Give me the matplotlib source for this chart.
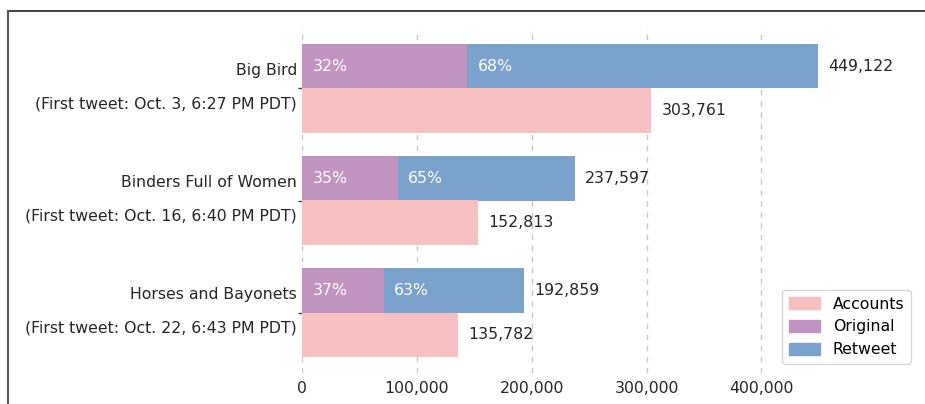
import matplotlib
matplotlib.use("Agg")
import matplotlib.pyplot as plt
import matplotlib.transforms as mtransforms
from matplotlib.lines import Line2D
from matplotlib.patches import Patch
import numpy as np

# Data
memes = ["Big Bird", "Binders Full of Women", "Horses and Bayonets"]
first_tweet = ["Oct. 3, 6:27 PM PDT", "Oct. 16, 6:40 PM PDT", "Oct. 22, 6:43 PM PDT"]
accounts = [303761, 152813, 135782]
original = [143700, 83200, 71400]
retweet = [305422, 154397, 121459]
xticks = [0, 100000, 200000, 300000, 400000]

c_acc = "#f7c0c0"
c_orig = "#c194bf"
c_rt = "#7ba2cc"
txt = "#262626"
fs = 11.3

fig = plt.figure(figsize=(9.25, 4.04), dpi=100)
ax = fig.add_axes([302 / 925, 1 - 373 / 404, (920 - 302) / 925, (373 - 28) / 404])

y = np.arange(len(memes))
h = 0.4
totals = [o + r for o, r in zip(original, retweet)]

ax.barh(y - h / 2, original, height=h, color=c_orig, label="Original", zorder=2)
ax.barh(y - h / 2, retweet, left=original, height=h, color=c_rt, label="Retweet", zorder=2)
ax.barh(y + h / 2, accounts, height=h, color=c_acc, label="Accounts", zorder=2)

for i in range(len(memes)):
    t = totals[i]
    ax.text(9000, y[i] - h / 2, f"{round(100 * original[i] / t)}%", color="white",
            va="center", ha="left", fontsize=fs, zorder=3)
    ax.text(original[i] + 9000, y[i] - h / 2, f"{round(100 * retweet[i] / t)}%", color="white",
            va="center", ha="left", fontsize=fs, zorder=3)
    ax.text(t + 9000, y[i] - h / 2, f"{t:,}", color=txt, va="center", ha="left", fontsize=fs)
    ax.text(accounts[i] + 9000, y[i] + h / 2, f"{accounts[i]:,}", color=txt,
            va="center", ha="left", fontsize=fs)

# two-line y labels placed by hand around each tick
ylab = mtransforms.offset_copy(
    mtransforms.blended_transform_factory(ax.transAxes, ax.transData),
    fig=fig, x=-5, y=0, units="dots")
for i in range(len(memes)):
    ax.text(0, y[i] - 0.16, memes[i], transform=ylab, ha="right", va="center",
            fontsize=fs, color=txt)
    ax.text(0, y[i] + 0.14, f"(First tweet: {first_tweet[i]})", transform=ylab,
            ha="right", va="center", fontsize=fs, color=txt)

ax.set_yticks(y)
ax.set_yticklabels([])
ax.invert_yaxis()
ax.set_xlim(0, 538000)
ax.set_xticks(xticks)
ax.set_xticklabels([f"{v:,}" for v in xticks], fontsize=fs, color=txt)
ax.tick_params(axis="x", length=0, pad=6)
ax.tick_params(axis="y", length=3, width=1, color="#444444", pad=4)
for s in ax.spines.values():
    s.set_visible(False)
ax.xaxis.grid(True, linestyle=(0, (4, 4)), color="#c8c8c8", linewidth=1, zorder=0)
ax.set_axisbelow(True)

handles = [Patch(color=c_acc), Patch(color=c_orig), Patch(color=c_rt)]
ax.legend(handles, ["Accounts", "Original", "Retweet"], loc="lower right",
          fontsize=fs, frameon=True, edgecolor="#cccccc", fancybox=True,
          handlelength=2.0, handleheight=0.75, handletextpad=0.8,
          labelspacing=0.5, borderaxespad=0.6)

# outer frame lines (top and left)
fig.add_artist(Line2D([8 / 925, 1], [1 - 11 / 404, 1 - 11 / 404], color="#333333", lw=1.3))
fig.add_artist(Line2D([8 / 925, 8 / 925], [0, 1 - 11 / 404], color="#555555", lw=1.5))

fig.savefig("out.png", dpi=100)
